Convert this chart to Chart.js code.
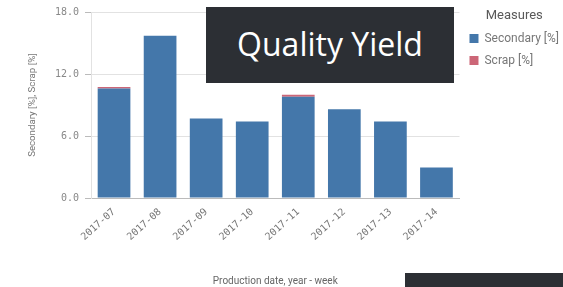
<!DOCTYPE html>
<html>
<head>
<meta charset="utf-8">
<script src="https://cdn.jsdelivr.net/npm/chart.js@4"></script>
<style>
  body { margin: 0; background: #fff; }
  #wrap { position: relative; width: 563px; height: 287px; }
  .box { position: absolute; background: #2c2f34; color: #fff; }
  #titleBox { left: 206px; top: 7px; width: 248px; height: 76px;
    font-family: "Open Sans", sans-serif; font-size: 32px;
    display: flex; align-items: center; justify-content: center; padding-bottom: 4px; box-sizing: border-box; }
  #cornerBox { left: 405px; top: 273px; width: 158px; height: 14px; }
</style>
</head>
<body>
<div id="wrap">
  <canvas id="chart" width="563" height="287"></canvas>
  <div class="box" id="titleBox">Quality Yield</div>
  <div class="box" id="cornerBox"></div>
</div>
<script>
// values
const weeks = ['2017-07', '2017-08', '2017-09', '2017-10', '2017-11', '2017-12', '2017-13', '2017-14'];
const secondary = [10.6, 15.7, 7.7, 7.4, 9.8, 8.6, 7.4, 2.95];
const scrap = [0.15, 0, 0, 0, 0.18, 0, 0, 0];
const yTicks = [0, 6, 12, 18];

const ctx = document.getElementById('chart').getContext('2d');
new Chart(ctx, {
  type: 'bar',
  data: {
    labels: weeks,
    datasets: [
      { label: 'Secondary [%]', data: secondary, backgroundColor: '#4477aa', barPercentage: 0.71, categoryPercentage: 1 },
      { label: 'Scrap [%]', data: scrap, backgroundColor: '#cc6677', barPercentage: 0.71, categoryPercentage: 1 },
    ],
  },
  options: {
    responsive: false,
    animation: false,
    layout: { padding: { top: 7, right: -6, bottom: 0, left: 0 } },
    plugins: {
      tooltip: { enabled: false },
      legend: {
        position: 'right',
        align: 'start',
        title: { display: true, text: 'Measures', color: '#595959', font: { family: 'Roboto', size: 13 }, padding: { top: 2, bottom: -2 } },
        labels: { boxWidth: 9, boxHeight: 9, padding: 10, color: '#777', font: { family: 'Roboto', size: 12 } },
      },
    },
    scales: {
      x: {
        stacked: true,
        grid: { display: false },
        border: { color: '#bbb' },
        ticks: { color: '#777', font: { family: 'DejaVu Sans Mono', size: 10 }, minRotation: 42, maxRotation: 42, padding: 0 },
        title: { display: true, text: 'Production date, year - week', color: '#666', font: { family: 'Roboto', size: 10 }, padding: { top: 0, bottom: 0 } },
        afterFit: (s) => { s.height = 89; },
      },
      y: {
        stacked: true,
        min: 0,
        max: 18,
        afterBuildTicks: (s) => { s.ticks = yTicks.map(v => ({ value: v })); },
        grid: { color: '#e2e2e2', tickLength: 6, tickColor: '#bbb' },
        border: { color: '#e2e2e2' },
        ticks: { color: '#888', font: { family: 'DejaVu Sans Mono', size: 10 }, padding: 6, callback: (v) => v.toFixed(1) },
        title: { display: true, text: 'Secondary [%], Scrap [%]', color: '#777', font: { family: 'Roboto', size: 9.7 }, padding: { top: 27, bottom: 0 } },
        afterFit: (s) => { s.width = 91; },
      },
    },
  },
});
</script>
</body>
</html>
